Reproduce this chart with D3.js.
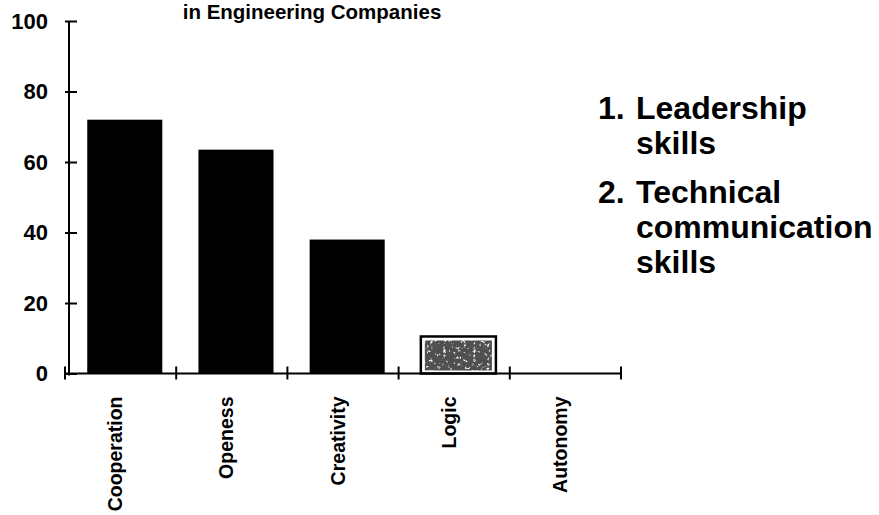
<!DOCTYPE html>
<html>
<head>
<meta charset="utf-8">
<script src="https://cdn.jsdelivr.net/npm/d3@7"></script>
<style>
  html, body { margin: 0; padding: 0; background: #fff; }
  svg { display: block; font-family: "Liberation Sans", Arial, Helvetica, sans-serif; }
</style>
</head>
<body>
<svg id="chart" width="879" height="515"></svg>
<script>
// Share of respondents naming each attribute (%)
const categories = ["Cooperation", "Openess", "Creativity", "Logic", "Autonomy"];
const values = [72, 63.5, 38, 10.5, 0];
const yTicks = [0, 20, 40, 60, 80, 100];
const titleLine = "in Engineering Companies";
const notes = [
  { num: "1.", lines: ["Leadership", "skills"] },
  { num: "2.", lines: ["Technical", "communication", "skills"] }
];
// Bars drawn with a mottled fill instead of solid black
const speckled = ["Logic"];

const svg = d3.select("#chart");
const ink = "#000";

const x = d3.scaleBand().domain(categories).range([65, 621]).paddingInner(0).paddingOuter(0);
const y = d3.scaleLinear().domain([0, 100]).range([373.5, 21]);
const axisX = 69;

// grain filter for the speckled bar
const defs = svg.append("defs");
const f = defs.append("filter").attr("id", "grain").attr("x", 0).attr("y", 0).attr("width", 1).attr("height", 1);
f.append("feTurbulence").attr("type", "fractalNoise").attr("baseFrequency", 0.3).attr("numOctaves", 3).attr("seed", 11).attr("result", "n");
f.append("feColorMatrix").attr("in", "n").attr("type", "matrix")
  .attr("values", "0 0 0 0 0.08  0 0 0 0 0.08  0 0 0 0 0.08  -5 0 0 0 3.9").attr("result", "g");
f.append("feComposite").attr("in", "g").attr("in2", "SourceGraphic").attr("operator", "in");

// title (second line of the heading)
svg.append("text")
  .attr("x", 312).attr("y", 19)
  .attr("text-anchor", "middle")
  .attr("font-size", 20.5).attr("font-weight", "bold")
  .attr("fill", ink)
  .text(titleLine);

// bars
const bw = x.bandwidth();
const barX = c => x(c) + bw * 0.2;
const barW = bw * 0.675;

const bars = svg.append("g");
categories.forEach((c, i) => {
  const v = values[i];
  if (v <= 0) return;
  if (speckled.includes(c)) {
    bars.append("rect")
      .attr("x", barX(c)).attr("y", y(v))
      .attr("width", barW).attr("height", y(0) - y(v))
      .attr("fill", "#fff").attr("stroke", ink).attr("stroke-width", 2.5);
    bars.append("rect")
      .attr("x", barX(c) + 4).attr("y", y(v) + 4)
      .attr("width", barW - 8).attr("height", y(0) - y(v) - 7)
      .attr("fill", "#fff")
      .attr("filter", "url(#grain)");
  } else {
    bars.append("rect")
      .attr("x", barX(c)).attr("y", y(v))
      .attr("width", barW).attr("height", y(0) - y(v))
      .attr("fill", ink);
  }
});

// y axis
const gy = svg.append("g")
  .attr("transform", `translate(${axisX},0)`)
  .call(d3.axisLeft(y).tickValues(yTicks).tickSize(4).tickPadding(17).tickSizeOuter(0));
gy.select(".domain").attr("stroke", ink).attr("stroke-width", 2).attr("d", `M0,${y(100)}V${y(0) + 2}`);
gy.selectAll(".tick line").attr("stroke", ink).attr("stroke-width", 2).attr("x1", 8).attr("x2", -4);
gy.selectAll(".tick text")
  .attr("font-family", "'Liberation Sans', Arial, sans-serif")
  .attr("font-size", 22).attr("font-weight", "bold").attr("fill", ink);

// x axis: baseline, boundary ticks, rotated labels
const gx = svg.append("g")
  .attr("transform", `translate(0,${y(0)})`)
  .call(d3.axisBottom(x).tickSize(0).tickSizeOuter(0));
gx.select(".domain").attr("stroke", ink).attr("stroke-width", 2).attr("d", `M65,0H622`);
gx.selectAll(".tick text")
  .attr("font-family", "'Liberation Sans', Arial, sans-serif")
  .attr("font-size", 19.5).attr("font-weight", "bold").attr("fill", ink)
  .attr("text-anchor", "end")
  .attr("dy", 0)
  .attr("transform", "rotate(-90)")
  .attr("x", -23).attr("y", 1.5);
const edges = categories.map(c => x(c)).concat([x.range()[1]]);
gx.selectAll(".edge").data(edges).join("line")
  .attr("class", "edge")
  .attr("x1", d => d).attr("x2", d => d)
  .attr("y1", -7).attr("y2", 6)
  .attr("stroke", ink).attr("stroke-width", 2);

// side notes
const notesG = svg.append("g").attr("font-size", 32).attr("font-weight", "bold").attr("fill", ink);
const firstBaselines = [119, 203];
const lineGap = 35;
notes.forEach((n, i) => {
  const b = firstBaselines[i];
  notesG.append("text").attr("x", 598).attr("y", b).text(n.num);
  n.lines.forEach((l, j) => {
    notesG.append("text").attr("x", 636).attr("y", b + j * lineGap).text(l);
  });
});
</script>
</body>
</html>
